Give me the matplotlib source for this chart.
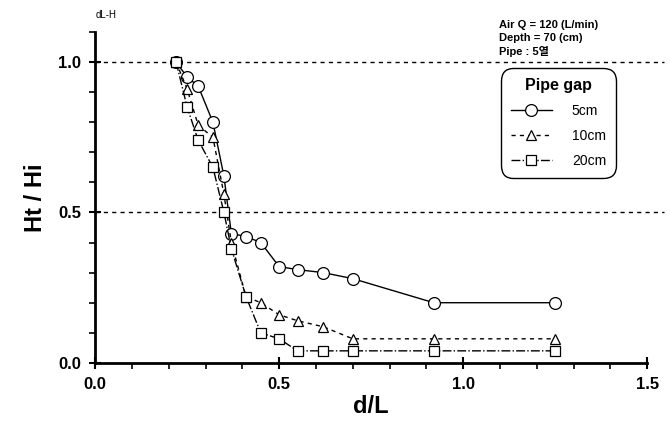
import matplotlib.pyplot as plt
from matplotlib.ticker import MultipleLocator

plt.rcParams['font.family'] = ['Liberation Sans', 'Noto Sans CJK KR', 'DejaVu Sans']

# 데이터
dl = [0.22, 0.25, 0.28, 0.32, 0.35, 0.37, 0.41, 0.45, 0.50, 0.55, 0.62, 0.70, 0.92, 1.25]
h_5cm = [1.0, 0.95, 0.92, 0.80, 0.62, 0.43, 0.42, 0.40, 0.32, 0.31, 0.30, 0.28, 0.20, 0.20]
h_10cm = [1.0, 0.91, 0.79, 0.75, 0.56, 0.40, 0.22, 0.20, 0.16, 0.14, 0.12, 0.08, 0.08, 0.08]
h_20cm = [1.0, 0.85, 0.74, 0.65, 0.50, 0.38, 0.22, 0.10, 0.08, 0.04, 0.04, 0.04, 0.04, 0.04]
labels = ['5cm', '10cm', '20cm']

fig = plt.figure(figsize=(6.7, 4.32), dpi=100)
ax = fig.add_axes([0.142, 0.16, 0.824, 0.766])

mk = dict(color='k', mfc='white', mec='k', mew=0.9, lw=1.0)
ax.plot(dl, h_5cm, '-', marker='o', ms=8.5, label=labels[0], **mk)
ax.plot(dl, h_10cm, linestyle=(0, (3, 3)), marker='^', ms=7.5, label=labels[1], **mk)
ax.plot(dl, h_20cm, '-.', marker='s', ms=7.5, label=labels[2], **mk)

# 기준선
for yy in (1.0, 0.5):
    ax.axhline(yy, xmax=1.03, color='k', ls=(0, (3, 3)), lw=1.0, zorder=0, clip_on=False)

ax.set_xlim(0, 1.5)
ax.set_ylim(0, 1.1)
ax.set_xticks([0.0, 0.5, 1.0, 1.5])
ax.set_yticks([0.0, 0.5, 1.0])
ax.xaxis.set_minor_locator(MultipleLocator(0.1))
ax.yaxis.set_minor_locator(MultipleLocator(0.1))
ax.set_xticklabels(['0.0', '0.5', '1.0', '1.5'], fontweight='bold', fontsize=12)
ax.set_yticklabels(['0.0', '0.5', '1.0'], fontweight='bold', fontsize=12)
ax.tick_params(which='major', direction='inout', length=8, width=1.5, pad=6)
ax.tick_params(which='minor', direction='out', length=4, width=1.2)

for s in ('top', 'right'):
    ax.spines[s].set_visible(False)
for s in ('left', 'bottom'):
    ax.spines[s].set_linewidth(2)

ax.set_xlabel('d/L', fontsize=17, fontweight='bold', labelpad=2)
ax.set_ylabel('Ht / Hi', fontsize=17, fontweight='bold', labelpad=8)

fig.text(0.142, 0.965, 'dL-H', fontsize=7, va='center')
fig.text(0.745, 0.942, 'Air Q = 120 (L/min)', fontsize=8, fontweight='bold', va='center')
fig.text(0.745, 0.912, 'Depth = 70 (cm)', fontsize=8, fontweight='bold', va='center')
fig.text(0.745, 0.880, 'Pipe : 5열', fontsize=8, fontweight='bold', va='center')

leg = ax.legend(loc='upper left', bbox_to_anchor=(0.735, 0.891), borderaxespad=0,
                title='Pipe gap', fontsize=10, fancybox=True, edgecolor='k', framealpha=1,
                handlelength=3.0, handletextpad=1.4, borderpad=0.7, labelspacing=0.8)
leg.get_title().set_fontweight('bold')
leg.get_title().set_fontsize(11.5)
leg.get_frame().set_linewidth(1.0)
leg.get_frame().set_boxstyle('round', pad=0, rounding_size=0.9)

fig.savefig('out.png', dpi=100)
